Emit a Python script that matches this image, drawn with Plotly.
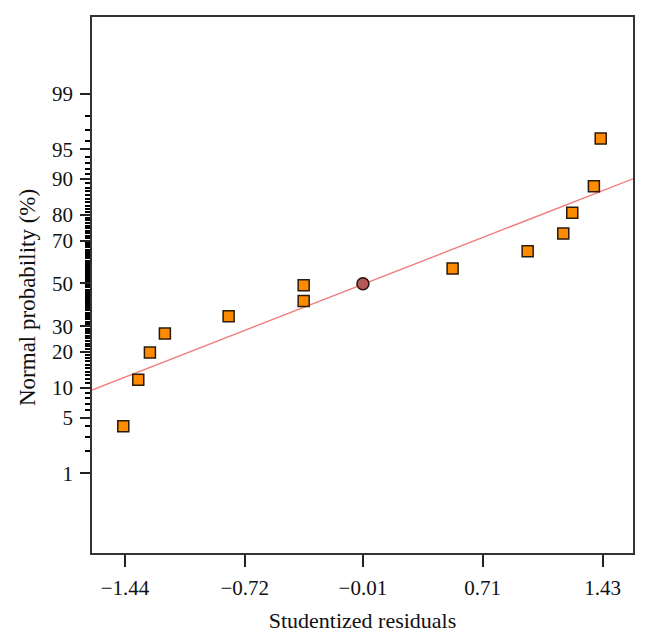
import plotly.graph_objects as go
from statistics import NormalDist

_nd = NormalDist()


def probit(p):
    return _nd.inv_cdf(p / 100.0)


# ---- data ----
residuals = [-1.45, -1.36, -1.29, -1.20, -0.817, -0.366, -0.366,
             0.529, 0.980, 1.194, 1.248, 1.378, 1.419]
probabilities = [3.99, 11.9, 19.8, 26.9, 34.3, 41.5, 49.1,
                 57.2, 65.3, 72.9, 80.7, 88.3, 96.2]
center_x = [-0.01]
center_p = [49.8]
line_x = [-1.638, 1.613]
line_p = [9.55, 90.0]

x_tick_vals = [-1.44, -0.72, -0.01, 0.71, 1.43]
x_tick_text = ["\u22121.44", "\u22120.72", "\u22120.01", "0.71", "1.43"]
y_tick_pct = [1, 5, 10, 20, 30, 50, 70, 80, 90, 95, 99]
y_minor_pct = [p for p in range(1, 100) if p not in y_tick_pct]

FONT = "Liberation Serif, Times New Roman, serif"

fig = go.Figure()
fig.add_trace(go.Scatter(
    x=line_x, y=[probit(p) for p in line_p], mode="lines",
    line=dict(color="#F08080", width=1.4), hoverinfo="skip", showlegend=False))
fig.add_trace(go.Scatter(
    x=residuals, y=[probit(p) for p in probabilities], mode="markers",
    marker=dict(symbol="square", size=11, color="#FF8C00",
                line=dict(color="#2a1a0a", width=1.5)),
    showlegend=False))
fig.add_trace(go.Scatter(
    x=center_x, y=[probit(p) for p in center_p], mode="markers",
    marker=dict(symbol="circle", size=12, color="#B5585A",
                line=dict(color="#2a1010", width=1.5)),
    showlegend=False))

axis_line = dict(showline=True, linecolor="#333333", linewidth=1.5, mirror=True,
                 showgrid=False, zeroline=False)

# page body has an 8px margin, so the figure is sized/margined to compensate
fig.update_layout(
    width=638, height=632,
    margin=dict(l=84, r=13, t=7, b=87),
    paper_bgcolor="white", plot_bgcolor="white",
    font=dict(family=FONT, size=21, color="#111111"),
    xaxis=dict(
        **axis_line,
        range=[-1.638, 1.613],
        tickmode="array", tickvals=x_tick_vals, ticktext=x_tick_text,
        ticks="outside", ticklen=12, tickwidth=1.5, tickcolor="#222222",
        ticklabelstandoff=3,
        tickfont=dict(family=FONT, size=21, color="#111111"),
        title=dict(text="Studentized residuals", standoff=14,
                   font=dict(family=FONT, size=22, color="#111111")),
    ),
    yaxis=dict(
        **axis_line,
        range=[-3.305, 3.265],
        tickmode="array", tickvals=[probit(p) for p in y_tick_pct],
        ticktext=[str(p) for p in y_tick_pct],
        ticks="outside", ticklen=10, tickwidth=1.5, tickcolor="#222222",
        ticklabelstandoff=3,
        tickfont=dict(family=FONT, size=21, color="#111111"),
        minor=dict(tickmode="array", tickvals=[probit(p) for p in y_minor_pct],
                   ticks="outside", ticklen=5, tickwidth=2, tickcolor="#000000"),
    ),
    annotations=[dict(
        text="Normal probability (%)", textangle=-90,
        xref="paper", yref="paper", x=-0.118, y=0.476,
        xanchor="center", yanchor="middle", showarrow=False,
        font=dict(family=FONT, size=23, color="#111111"),
    )],
)

fig.write_html("out.html")
